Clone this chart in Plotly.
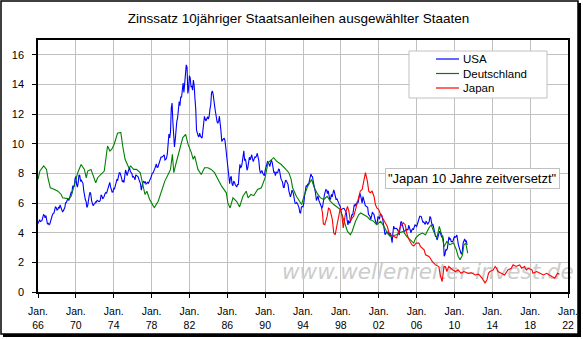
import plotly.graph_objects as go

# ---------------------------------------------------------------
# Data
# ---------------------------------------------------------------
# USA: monthly yields of 10-year Treasuries, Jan 1966 .. May 2011
usa_start_year = 1966
usa_yields = [
    4.61, 4.83, 4.87, 4.75, 4.78, 4.81, 5.02, 5.22, 5.18, 5.01, 5.16, 4.84,  # 1966
    4.58, 4.63, 4.54, 4.59, 4.85, 5.02, 5.16, 5.28, 5.30, 5.48, 5.75, 5.70,  # 1967
    5.53, 5.56, 5.74, 5.64, 5.87, 5.72, 5.50, 5.42, 5.46, 5.58, 5.70, 6.03,  # 1968
    6.04, 6.19, 6.30, 6.17, 6.32, 6.57, 6.72, 6.69, 7.16, 7.10, 7.14, 7.65,  # 1969
    7.79, 7.24, 7.07, 7.39, 7.91, 7.84, 7.46, 7.53, 7.39, 7.33, 6.84, 6.39,  # 1970
    6.24, 6.11, 5.70, 5.83, 6.39, 6.52, 6.73, 6.58, 6.14, 5.93, 5.81, 5.93,  # 1971
    5.95, 6.08, 6.07, 6.19, 6.13, 6.11, 6.11, 6.21, 6.55, 6.48, 6.28, 6.36,  # 1972
    6.46, 6.64, 6.71, 6.67, 6.85, 6.90, 7.13, 7.40, 7.09, 6.79, 6.73, 6.74,  # 1973
    6.99, 6.96, 7.21, 7.51, 7.58, 7.54, 7.81, 8.04, 8.04, 7.90, 7.68, 7.43,  # 1974
    7.50, 7.39, 7.73, 8.23, 8.06, 7.86, 8.06, 8.40, 8.43, 8.14, 8.05, 8.00,  # 1975
    7.74, 7.79, 7.73, 7.56, 7.90, 7.86, 7.83, 7.77, 7.59, 7.41, 7.29, 6.87,  # 1976
    7.21, 7.39, 7.46, 7.37, 7.46, 7.28, 7.33, 7.40, 7.34, 7.52, 7.58, 7.69,  # 1977
    7.96, 8.03, 8.04, 8.15, 8.35, 8.46, 8.64, 8.41, 8.42, 8.64, 8.81, 9.01,  # 1978
    9.10, 9.10, 9.12, 9.18, 9.25, 8.91, 8.95, 9.03, 9.33, 10.30, 10.65, 10.39,  # 1979
    10.80, 12.41, 12.75, 11.47, 10.18, 9.78, 10.25, 11.10, 11.51, 11.75, 12.68, 12.84,  # 1980
    12.57, 13.19, 13.12, 13.68, 14.10, 13.47, 14.28, 14.94, 15.32, 15.15, 13.39, 13.72,  # 1981
    14.59, 14.43, 13.86, 13.87, 13.62, 14.30, 13.95, 13.06, 12.34, 10.91, 10.55, 10.54,  # 1982
    10.46, 10.72, 10.51, 10.40, 10.38, 10.85, 11.38, 11.85, 11.65, 11.54, 11.69, 11.83,  # 1983
    11.67, 11.84, 12.32, 12.63, 13.41, 13.56, 13.36, 12.72, 12.52, 12.16, 11.57, 11.50,  # 1984
    11.38, 11.51, 11.86, 11.43, 10.85, 10.16, 10.31, 10.33, 10.37, 10.24, 9.78, 9.26,  # 1985
    9.19, 8.70, 7.78, 7.30, 7.71, 7.80, 7.30, 7.17, 7.45, 7.43, 7.25, 7.11,  # 1986
    7.08, 7.25, 7.25, 8.02, 8.61, 8.40, 8.45, 8.76, 9.42, 9.52, 8.86, 8.99,  # 1987
    8.67, 8.21, 8.37, 8.72, 9.09, 8.92, 9.06, 9.26, 8.98, 8.80, 8.96, 9.11,  # 1988
    9.09, 9.17, 9.36, 9.18, 8.86, 8.28, 8.02, 8.11, 8.19, 8.01, 7.87, 7.84,  # 1989
    8.21, 8.47, 8.59, 8.79, 8.76, 8.48, 8.47, 8.75, 8.89, 8.72, 8.39, 8.08,  # 1990
    8.09, 7.85, 8.11, 8.04, 8.07, 8.28, 8.27, 7.90, 7.65, 7.53, 7.42, 7.09,  # 1991
    7.03, 7.34, 7.54, 7.48, 7.39, 7.26, 6.84, 6.59, 6.42, 6.59, 6.87, 6.77,  # 1992
    6.60, 6.26, 5.98, 5.97, 6.04, 5.96, 5.81, 5.68, 5.36, 5.33, 5.72, 5.77,  # 1993
    5.75, 5.97, 6.48, 6.97, 7.18, 7.10, 7.30, 7.24, 7.46, 7.74, 7.96, 7.81,  # 1994
    7.78, 7.47, 7.20, 7.06, 6.63, 6.17, 6.28, 6.49, 6.20, 6.04, 5.93, 5.71,  # 1995
    5.65, 5.81, 6.27, 6.51, 6.74, 6.91, 6.87, 6.64, 6.83, 6.53, 6.20, 6.30,  # 1996
    6.58, 6.42, 6.69, 6.89, 6.71, 6.49, 6.22, 6.30, 6.21, 6.03, 5.88, 5.81,  # 1997
    5.54, 5.57, 5.65, 5.64, 5.65, 5.50, 5.46, 5.34, 4.81, 4.53, 4.83, 4.65,  # 1998
    4.72, 5.00, 5.23, 5.18, 5.54, 5.90, 5.79, 5.94, 5.92, 6.11, 6.03, 6.28,  # 1999
    6.66, 6.52, 6.26, 5.99, 6.44, 6.10, 6.05, 5.83, 5.80, 5.74, 5.72, 5.24,  # 2000
    5.16, 5.10, 4.89, 5.14, 5.39, 5.28, 5.24, 4.97, 4.73, 4.57, 4.65, 5.09,  # 2001
    5.04, 4.91, 5.28, 5.21, 5.16, 4.93, 4.65, 4.26, 3.87, 3.94, 4.05, 4.03,  # 2002
    4.05, 3.90, 3.81, 3.96, 3.57, 3.33, 3.98, 4.45, 4.27, 4.29, 4.30, 4.27,  # 2003
    4.15, 4.08, 3.83, 4.35, 4.72, 4.73, 4.50, 4.28, 4.13, 4.10, 4.19, 4.23,  # 2004
    4.22, 4.17, 4.50, 4.34, 4.14, 4.00, 4.18, 4.26, 4.20, 4.46, 4.54, 4.47,  # 2005
    4.42, 4.57, 4.72, 4.99, 5.11, 5.11, 5.09, 4.88, 4.72, 4.73, 4.60, 4.56,  # 2006
    4.76, 4.72, 4.56, 4.69, 4.75, 5.10, 5.00, 4.67, 4.52, 4.53, 4.15, 4.10,  # 2007
    3.74, 3.74, 3.51, 3.68, 3.88, 4.10, 4.01, 3.89, 3.69, 3.81, 3.53, 2.42,  # 2008
    2.52, 2.87, 2.82, 2.93, 3.29, 3.72, 3.56, 3.59, 3.40, 3.39, 3.40, 3.59,  # 2009
    3.73, 3.69, 3.73, 3.85, 3.42, 3.20, 3.01, 2.70, 2.65, 2.54, 2.76, 3.29,  # 2010
    3.39, 3.58, 3.41, 3.46, 3.17,                                          # 2011
]

# Deutschland: yield readings (decimal year, percent)
de_years = [
    1966.0, 1966.2, 1966.6, 1966.9, 1967.05, 1967.3, 1967.75, 1968.1, 1968.45, 1968.6,
    1969.3, 1969.5, 1969.85, 1970.2, 1970.55, 1970.9, 1971.1, 1971.25, 1971.6, 1971.95,
    1972.1, 1972.3, 1972.65, 1973.0, 1973.35, 1973.6, 1973.8, 1974.05, 1974.4, 1974.75,
    1974.95, 1975.2, 1975.6, 1975.8, 1976.1, 1976.4, 1976.8, 1977.1, 1977.3, 1977.5,
    1977.8, 1978.2, 1978.3, 1978.7, 1979.05, 1979.4, 1979.75, 1980.0, 1980.2, 1980.35,
    1980.6, 1981.0, 1981.3, 1981.6, 1981.85, 1982.2, 1982.4, 1982.55, 1982.9, 1983.25,
    1983.6, 1983.95, 1984.3, 1984.65, 1985.0, 1985.4, 1985.9, 1986.06, 1986.3, 1986.6,
    1987.0, 1987.3, 1987.65, 1988.0, 1988.2, 1988.5, 1988.8, 1989.2, 1989.6, 1990.0,
    1990.3, 1990.65, 1990.9, 1991.2, 1991.7, 1992.2, 1992.5, 1992.75, 1992.9, 1993.3,
    1993.6, 1993.85, 1994.1, 1994.5, 1994.9, 1995.2, 1995.55, 1995.85, 1996.2, 1996.55,
    1996.9, 1997.25, 1997.95, 1998.3, 1998.7, 1999.0, 1999.2, 1999.55, 1999.9, 2000.1,
    2000.4, 2000.75, 2001.1, 2001.4, 2001.8, 2002.2, 2002.55, 2002.9, 2003.2, 2003.5,
    2003.9, 2004.2, 2004.6, 2004.95, 2005.3, 2005.7, 2005.9, 2006.25, 2006.6, 2006.95,
    2007.3, 2007.55, 2007.8, 2008.15, 2008.4, 2008.7, 2008.9, 2009.2, 2009.5, 2009.9,
    2010.2, 2010.4, 2010.6, 2010.85, 2011.0, 2011.2, 2011.4,
]
de_yields = [
    7.60, 8.16, 8.50, 8.27, 7.70, 7.03, 6.92, 6.80, 6.58, 6.35,
    6.28, 6.46, 7.25, 8.05, 8.60, 8.27, 7.70, 8.16, 8.27, 7.60,
    7.37, 7.71, 7.93, 8.16, 9.85, 9.51, 9.63, 9.97, 10.71, 10.76,
    9.85, 8.95, 8.38, 8.50, 8.27, 8.27, 8.05, 7.25, 6.58, 6.80,
    6.24, 5.78, 5.70, 6.12, 6.80, 7.48, 7.93, 8.27, 9.29, 8.05,
    8.72, 9.63, 10.42, 10.64, 9.97, 9.40, 8.95, 9.18, 8.27, 7.93,
    8.38, 8.38, 8.27, 8.05, 7.60, 7.14, 6.69, 6.01, 5.67, 6.35,
    6.10, 5.74, 6.46, 6.80, 6.35, 6.58, 6.50, 6.92, 7.03, 7.71,
    8.72, 8.95, 9.06, 8.83, 8.60, 8.27, 8.05, 7.60, 7.03, 6.46,
    6.12, 5.90, 6.46, 7.14, 7.59, 7.03, 6.60, 6.35, 6.24, 6.46,
    6.12, 5.90, 5.56, 4.88, 4.09, 3.86, 4.10, 4.77, 5.22, 5.33,
    5.22, 5.10, 4.88, 4.80, 4.54, 4.77, 4.43, 3.98, 3.75, 3.80,
    3.86, 4.00, 4.09, 3.75, 3.53, 3.30, 3.64, 3.86, 3.98, 3.86,
    4.32, 4.54, 4.09, 3.64, 4.43, 3.75, 3.07, 3.41, 3.19, 3.30,
    2.85, 2.40, 2.17, 2.50, 3.19, 3.30, 2.62,
]

# Japan: yield readings (decimal year of the actual observation, percent);
# drawn ten years later on the time axis
jp_shift_years = 10
jp_years = [
    1985.95, 1986.06, 1986.15, 1986.3, 1986.55, 1986.7, 1986.85, 1987.1, 1987.25, 1987.4,
    1987.6, 1987.8, 1987.95, 1988.1, 1988.25, 1988.5, 1988.7, 1988.85, 1989.0, 1989.2,
    1989.35, 1989.55, 1989.7, 1989.9, 1990.05, 1990.25, 1990.4, 1990.6, 1990.8, 1990.95,
    1991.1, 1991.3, 1991.5, 1991.65, 1991.8, 1992.0, 1992.2, 1992.3, 1992.5, 1992.65,
    1992.9, 1993.05, 1993.2, 1993.6, 1993.9, 1994.05, 1994.3, 1994.6, 1994.8, 1994.95,
    1995.15, 1995.5, 1995.7, 1995.95, 1996.25, 1996.4, 1996.8, 1996.95, 1997.3, 1997.45,
    1997.65, 1998.0, 1998.35, 1998.5, 1998.7, 1998.9, 1999.05, 1999.2, 1999.4, 1999.8,
    2000.1, 2000.4, 2000.7, 2001.0, 2001.45, 2001.8, 2002.2, 2002.55, 2002.9, 2003.25,
    2003.45, 2003.6, 2003.75, 2004.1, 2004.3, 2004.45, 2004.6, 2004.95, 2005.3, 2005.65,
    2006.0, 2006.2, 2006.5, 2006.9, 2007.1, 2007.4, 2007.6, 2007.8, 2008.2, 2008.3,
    2008.7, 2009.05, 2009.4, 2009.75, 2010.1, 2010.3, 2010.6, 2010.75, 2010.9, 2011.1,
]
jp_yields = [
    5.67, 5.33, 4.60, 4.54, 5.10, 5.67, 5.56, 4.88, 3.98, 3.86,
    4.54, 5.33, 5.67, 5.20, 4.32, 5.33, 5.78, 5.45, 4.77, 5.00,
    5.10, 5.56, 5.90, 6.35, 6.80, 6.92, 7.48, 8.05, 7.48, 6.80,
    6.70, 6.80, 6.46, 5.90, 5.67, 5.56, 5.22, 5.10, 4.88, 4.65,
    4.43, 4.09, 3.86, 3.75, 3.64, 4.00, 4.43, 4.66, 4.54, 4.00,
    3.60, 3.19, 3.10, 3.30, 3.30, 3.08, 2.85, 2.51, 2.40, 2.28,
    2.06, 1.83, 1.72, 1.15, 0.70, 1.72, 1.70, 1.38, 1.72, 1.50,
    1.38, 1.49, 1.26, 1.38, 1.26, 1.30, 1.15, 1.20, 0.95, 0.60,
    0.85, 1.26, 1.38, 1.49, 1.72, 1.60, 1.38, 1.26, 1.15, 1.49,
    1.60, 1.83, 1.72, 1.83, 1.60, 1.72, 1.49, 1.60, 1.49, 1.26,
    1.38, 1.26, 1.15, 1.26, 1.15, 1.04, 0.93, 1.15, 1.26, 1.20,
]

tick_years = list(range(1966, 2023, 4))
tick_labels = [f"Jan.<br>{y % 100:02d}" for y in tick_years]

series_names = ["USA", "Deutschland", "Japan"]
series_colors = ["#0000ff", "#008000", "#ff0000"]

title_text = "Zinssatz 10jähriger Staatsanleihen ausgewählter Staaten"
note_text = "\"Japan 10 Jahre zeitversetzt\""
watermark_text = "www.wellenreiter-invest.de"

# ---------------------------------------------------------------
# Figure geometry (pixels)
# ---------------------------------------------------------------
W, H = 583, 339
ML, MR, MT, MB = 38, 15, 40, 47
PW, PH = W - ML - MR, H - MT - MB


def px(x):
    """horizontal pixel -> paper coordinate"""
    return (x - ML) / PW


def py(y):
    """vertical pixel -> paper coordinate"""
    return 1 - (y - MT) / PH


FONT = "Liberation Sans, Arial, sans-serif"

usa_x = [usa_start_year + i / 12 for i in range(len(usa_yields))]
jp_x = [y + jp_shift_years for y in jp_years]

fig = go.Figure()

# faint site name underneath the curves
fig.add_trace(go.Scatter(
    x=[2007.2], y=[1.27], mode="text", text=[watermark_text],
    textfont=dict(family="DejaVu Sans, Verdana, sans-serif", size=21.5,
                  color="#cccccc", style="italic"),
    cliponaxis=False, hoverinfo="skip", showlegend=False,
))

for xs, ys, name, color in [
    (usa_x, usa_yields, series_names[0], series_colors[0]),
    (de_years, de_yields, series_names[1], series_colors[1]),
    (jp_x, jp_yields, series_names[2], series_colors[2]),
]:
    fig.add_trace(go.Scatter(
        x=xs, y=ys, mode="lines", name=name,
        line=dict(color=color, width=1.1),
        showlegend=False,
    ))

shapes = []
annotations = []

# outer chart frame with a small drop shadow
shapes.append(dict(type="rect", xref="paper", yref="paper",
                   x0=px(3), x1=px(581), y0=py(337), y1=py(3),
                   line=dict(width=0), fillcolor="#000000", layer="below"))
shapes.append(dict(type="rect", xref="paper", yref="paper",
                   x0=px(1), x1=px(578), y0=py(334), y1=py(1),
                   line=dict(color="#000000", width=1.5), fillcolor="#ffffff",
                   layer="below"))

# legend box
shapes.append(dict(type="rect", xref="paper", yref="paper",
                   x0=px(409), x1=px(547), y0=py(98), y1=py(51),
                   line=dict(color="#c0c0c0", width=1), fillcolor="#ffffff"))
for i, (name, color) in enumerate(zip(series_names, series_colors)):
    yy = 59 + i * 14.5
    shapes.append(dict(type="line", xref="paper", yref="paper",
                       x0=px(436), x1=px(459), y0=py(yy), y1=py(yy),
                       line=dict(color=color, width=1.2)))
    annotations.append(dict(text=name, xref="paper", yref="paper",
                            x=px(461), y=py(yy), xanchor="left", yanchor="middle",
                            showarrow=False,
                            font=dict(family=FONT, size=11.5, color="#000000")))

# note about the shifted Japanese series
annotations.append(dict(
    text=note_text, xref="paper", yref="paper",
    x=px(472), y=py(178.7), xanchor="center", yanchor="middle",
    showarrow=False, bgcolor="#ffffff", bordercolor="#c0c0c0", borderwidth=1,
    borderpad=2, font=dict(family=FONT, size=13, color="#000000"),
))

fig.update_layout(
    width=W, height=H,
    margin=dict(l=ML, r=MR, t=MT, b=MB),
    paper_bgcolor="rgba(0,0,0,0)",
    plot_bgcolor="#ffffff",
    font=dict(family=FONT, size=11, color="#000000"),
    title=dict(text=title_text, x=0.512, xref="container", xanchor="center",
               y=1 - 18 / H, yref="container", yanchor="middle",
               font=dict(family=FONT, size=13.5, color="#000000")),
    showlegend=False,
    shapes=shapes,
    annotations=annotations,
    xaxis=dict(
        range=[1966, 2022], tickmode="array", tickvals=tick_years, ticktext=tick_labels,
        showgrid=True, gridcolor="#c0c0c0", gridwidth=1,
        showline=True, linecolor="#000000", linewidth=1.5, mirror=True,
        ticks="outside", ticklen=4, tickcolor="#000000", tickwidth=1,
        ticklabelstandoff=5, automargin=False,
        tickfont=dict(family=FONT, size=10.5), zeroline=False, fixedrange=True,
    ),
    yaxis=dict(
        range=[0, 17], tickmode="array", tickvals=list(range(0, 17, 2)),
        showgrid=True, gridcolor="#c0c0c0", gridwidth=1,
        showline=True, linecolor="#000000", linewidth=1.5, mirror=True,
        ticks="outside", ticklen=4, tickcolor="#000000", tickwidth=1,
        ticklabelstandoff=6, automargin=False,
        tickfont=dict(family=FONT, size=11), zeroline=False, fixedrange=True,
    ),
)

fig.write_html("out.html")
